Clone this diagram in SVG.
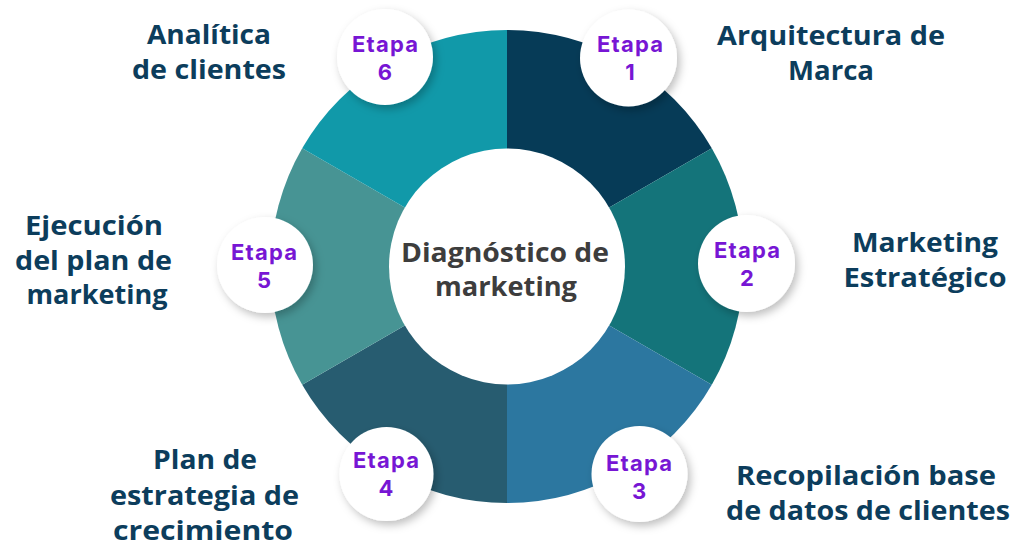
<svg xmlns="http://www.w3.org/2000/svg" width="1024" height="557" viewBox="0 0 1024 557">
<defs>
<style>
.lbl{font-family:"Open Sans","Liberation Sans",sans-serif;font-weight:700;font-size:27px;fill:#0c3d5c;text-anchor:middle}
.ctr{font-family:"Open Sans","Liberation Sans",sans-serif;font-weight:700;font-size:27px;fill:#3d3d3d;text-anchor:middle}
.et{font-family:Inter,"Liberation Sans",sans-serif;font-weight:700;font-size:22px;fill:#7716d4;text-anchor:middle}
.bub{fill:#ffffff;filter:url(#sh)}
</style>
<filter id="sh" x="-30%" y="-30%" width="160%" height="160%">
<feDropShadow dx="3" dy="4" stdDeviation="4" flood-color="#000" flood-opacity="0.25"/>
</filter>
</defs>
<rect width="1024" height="557" fill="#ffffff"/>
<g id="ring">
<path d="M507 266.5 L507 30 A236.5 236.5 0 0 1 711.8 148.25 Z" fill="#063b57"/>
<path d="M507 266.5 L711.8 148.25 A236.5 236.5 0 0 1 711.8 384.75 Z" fill="#14747a"/>
<path d="M507 266.5 L711.8 384.75 A236.5 236.5 0 0 1 507 503 Z" fill="#2c77a0"/>
<path d="M507 266.5 L507 503 A236.5 236.5 0 0 1 302.2 384.75 Z" fill="#275c70"/>
<path d="M507 266.5 L302.2 384.75 A236.5 236.5 0 0 1 302.2 148.25 Z" fill="#479494"/>
<path d="M507 266.5 L302.2 148.25 A236.5 236.5 0 0 1 507 30 Z" fill="#1199a9"/>
</g>
<g id="center">
<circle cx="507" cy="266.5" r="118" fill="#ffffff"/>
<text class="ctr" x="505" y="262" textLength="208" lengthAdjust="spacingAndGlyphs">Diagnóstico de</text>
<text class="ctr" x="506" y="296" textLength="142" lengthAdjust="spacingAndGlyphs">marketing</text>
</g>
<g id="etapa1">
<circle class="bub" cx="628.5" cy="58" r="48.5"/>
<text class="et" x="630" y="52" textLength="66" lengthAdjust="spacing">Etapa</text>
<text class="et" x="630" y="80">1</text>
</g>
<g id="etapa2">
<circle class="bub" cx="746.5" cy="263.5" r="48.5"/>
<text class="et" x="747" y="258" textLength="66" lengthAdjust="spacing">Etapa</text>
<text class="et" x="747" y="286">2</text>
</g>
<g id="etapa3">
<circle class="bub" cx="639.5" cy="474" r="48"/>
<text class="et" x="639" y="471" textLength="66" lengthAdjust="spacing">Etapa</text>
<text class="et" x="639" y="499">3</text>
</g>
<g id="etapa4">
<circle class="bub" cx="386.5" cy="474" r="47"/>
<text class="et" x="386" y="468" textLength="66" lengthAdjust="spacing">Etapa</text>
<text class="et" x="386" y="496">4</text>
</g>
<g id="etapa5">
<circle class="bub" cx="265" cy="265" r="48"/>
<text class="et" x="264" y="260" textLength="66" lengthAdjust="spacing">Etapa</text>
<text class="et" x="264" y="288">5</text>
</g>
<g id="etapa6">
<circle class="bub" cx="385" cy="57" r="48"/>
<text class="et" x="385" y="52" textLength="66" lengthAdjust="spacing">Etapa</text>
<text class="et" x="385" y="80">6</text>
</g>
<g id="label1">
<text class="lbl" x="831" y="45" textLength="228" lengthAdjust="spacingAndGlyphs">Arquitectura de</text>
<text class="lbl" x="831" y="80" textLength="86" lengthAdjust="spacingAndGlyphs">Marca</text>
</g>
<g id="label2">
<text class="lbl" x="925" y="252" textLength="146" lengthAdjust="spacingAndGlyphs">Marketing</text>
<text class="lbl" x="925" y="287" textLength="163" lengthAdjust="spacingAndGlyphs">Estratégico</text>
</g>
<g id="label3">
<text class="lbl" x="866" y="485" textLength="260" lengthAdjust="spacingAndGlyphs">Recopilación base</text>
<text class="lbl" x="868" y="520" textLength="284" lengthAdjust="spacingAndGlyphs">de datos de clientes</text>
</g>
<g id="label4">
<text class="lbl" x="205" y="469" textLength="104" lengthAdjust="spacingAndGlyphs">Plan de</text>
<text class="lbl" x="204.5" y="505" textLength="189" lengthAdjust="spacingAndGlyphs">estrategia de</text>
<text class="lbl" x="203" y="540" textLength="180" lengthAdjust="spacingAndGlyphs">crecimiento</text>
</g>
<g id="label5">
<text class="lbl" x="94" y="235" textLength="138" lengthAdjust="spacingAndGlyphs">Ejecución</text>
<text class="lbl" x="93.5" y="270" textLength="157" lengthAdjust="spacingAndGlyphs">del plan de</text>
<text class="lbl" x="97" y="304" textLength="141" lengthAdjust="spacingAndGlyphs">marketing</text>
</g>
<g id="label6">
<text class="lbl" x="209" y="44" textLength="124" lengthAdjust="spacingAndGlyphs">Analítica</text>
<text class="lbl" x="209" y="79" textLength="154" lengthAdjust="spacingAndGlyphs">de clientes</text>
</g>
</svg>
